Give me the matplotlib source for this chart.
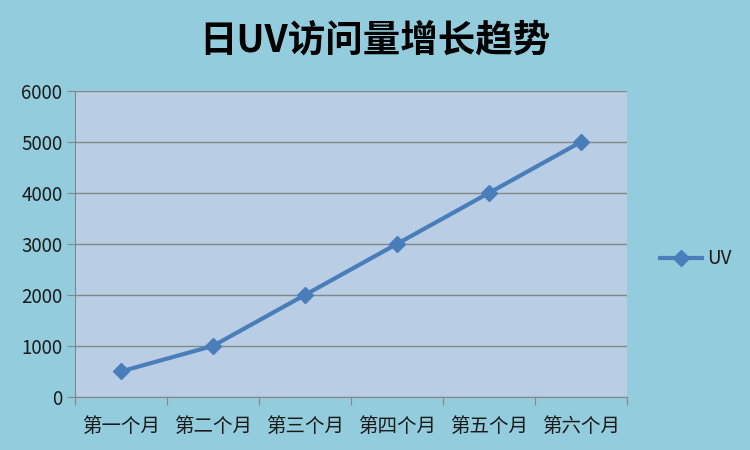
import matplotlib.pyplot as plt
import numpy as np

plt.rcParams['font.family'] = ['Noto Sans CJK SC', 'DejaVu Sans']

months = ["第一个月", "第二个月", "第三个月", "第四个月", "第五个月", "第六个月"]
uv = [500, 1000, 2000, 3000, 4000, 5000]
y_ticks = [0, 1000, 2000, 3000, 4000, 5000, 6000]

fig = plt.figure(figsize=(7.5, 4.5), dpi=100, facecolor='#93cddd')
ax = fig.add_axes([0.1, 0.118, 0.736, 0.680], facecolor='#b9cde5')

x = np.arange(len(months))
ax.plot(x, uv, color='#4a7ebb', lw=3, marker='D', ms=8, label='UV', zorder=3)

ax.set_xlim(-0.5, len(months) - 0.5)
ax.set_ylim(0, 6000)
ax.set_yticks(y_ticks)
ax.yaxis.grid(True, color='#868686', lw=1)
ax.set_axisbelow(True)

ax.set_xticks(np.arange(-0.5, len(months), 1))
ax.set_xticklabels([])
ax.set_xticks(x, minor=True)
ax.set_xticklabels(months, minor=True)
ax.tick_params(axis='x', which='minor', length=0, pad=14, labelsize=14,
               labelcolor='#1a1a1a')
ax.tick_params(axis='x', which='major', length=6, color='#868686')
ax.tick_params(axis='y', length=6, color='#868686', labelsize=13.5, pad=3,
               labelcolor='#1a1a1a')

for s in ['top', 'right']:
    ax.spines[s].set_visible(False)
for s in ['left', 'bottom']:
    ax.spines[s].set_color('#868686')

fig.text(0.5, 0.91, "日UV访问量增长趋势", ha='center', va='center',
         fontsize=27, fontweight='bold')

fig.legend(loc='center left', bbox_to_anchor=(0.858, 0.425), frameon=False,
           fontsize=13.5, handlelength=2.2, handletextpad=0.3,
           labelcolor='#1a1a1a')

fig.savefig('out.png', dpi=100, facecolor=fig.get_facecolor())
